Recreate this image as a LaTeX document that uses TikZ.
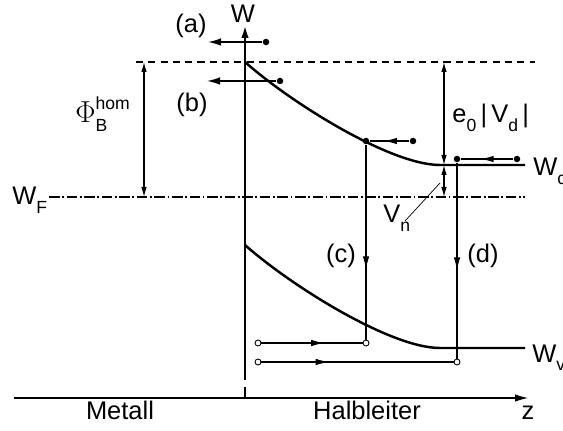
\documentclass[tikz,border=0pt]{standalone}
\usepackage{fontspec}
\setmainfont{Liberation Sans}
\usetikzlibrary{arrows.meta, decorations.markings, calc}

\newcommand{\lowsub}[1]{\raisebox{-5pt}{\fontsize{10}{11}\selectfont #1}}
\newcommand{\highsup}[1]{\raisebox{7.5pt}{\fontsize{10}{11}\selectfont #1}}

\begin{document}
\begin{tikzpicture}[
    x=0.02cm, y=-0.02cm,
    every node/.style={font=\fontsize{14.5}{17}\selectfont, inner sep=0pt},
    thinline/.style={line width=0.6pt},
    band/.style={line width=1.4pt},
    arrow/.style={-{Latex[length=2.6mm,width=1.5mm]}, line width=0.8pt},
    dimarrow/.style={{Latex[length=2mm,width=1.1mm]}-{Latex[length=2mm,width=1.1mm]}, line width=0.6pt},
    midarrow/.style={postaction={decorate}, decoration={markings, mark=at position #1 with {\arrow{Latex[length=2.6mm,width=1.3mm]}}}},
    dot/.style={circle, fill, inner sep=0pt, minimum size=1.3mm},
    hole/.style={circle, draw, fill=white, inner sep=0pt, minimum size=1.2mm, line width=0.5pt}
]
\useasboundingbox (0,0) rectangle (563,431);

% Axes
\coordinate (wbot) at (245,380);
\coordinate (wtop) at (245,25);
\coordinate (zleft) at (14,398);
\coordinate (zright) at (528,398);
\draw[arrow, line width=1.4pt] (wbot) -- (wtop);
\draw[thinline] (245,387) -- (245,398);
\draw[arrow, thinline] (zleft) -- (zright);
\node[anchor=base] (wlabel) at (243,23) {W};
\node[anchor=base] (metall) at (120,419) {Metall};
\node[anchor=base] (halbleiter) at (367,419) {Halbleiter};
\node[anchor=base] (zlabel) at (528,419) {z};

% Reference levels
\coordinate (vac0) at (136,62);
\coordinate (vac1) at (535,62);
\coordinate (fermi0) at (49,197);
\coordinate (fermi1) at (525,197);
\draw[thinline, dash pattern=on 4pt off 3pt] (vac0) -- (vac1);
\draw[thinline, dash pattern=on 6pt off 1.5pt on 1pt off 1.5pt] (fermi0) -- (fermi1);
\node[anchor=base west] (wf) at (12,205) {W\lowsub{F}};

% Bands
\coordinate (cb0) at (245,62);
\coordinate (cb1) at (440,165);
\coordinate (cb2) at (525,165);
\coordinate (vb0) at (245,245);
\coordinate (vb1) at (440,348);
\coordinate (vb2) at (525,348);
\draw[band] (cb0) .. controls (290,102) and (390,165) .. (cb1) -- (cb2);
\draw[band] (vb0) .. controls (290,285) and (390,348) .. (vb1) -- (vb2);
\node[anchor=base west] (wc) at (533,176) {W\lowsub{c}};
\node[anchor=base west] (wv) at (532,362) {W\lowsub{v}};

% Barrier heights
\coordinate (phitop) at (144,62);
\coordinate (phibot) at (144,197);
\draw[dimarrow] (phitop) -- (phibot);
\node[anchor=base west] (phi) at (75,123) {{\fontsize{17}{19}\selectfont$\Phi$}\rlap{\highsup{hom}}\lowsub{B}};
\coordinate (vdtop) at (444,62);
\coordinate (vdbot) at (444,165);
\coordinate (vnbot) at (444,197);
\draw[dimarrow] (vdtop) -- (vdbot);
\draw[dimarrow] (vdbot) -- (vnbot);
\node[anchor=base west] (vd) at (452,123) {e\lowsub{0}\,|\,V\lowsub{d}\,|};
\node[anchor=base west] (vn) at (383,223) {V\lowsub{n}};
\coordinate (vnlead) at (440,183);
\draw[line width=0.4pt] (405,221) -- (vnlead);

% (a) and (b): emission over the barrier
\node[dot] (adot) at (266,42) {};
\coordinate (atip) at (208,42);
\draw[arrow] (adot) -- (atip);
\node[anchor=base] (alabel) at (191,33) {(a)};
\node[dot] (bdot) at (280,81) {};
\coordinate (btip) at (207,81);
\draw[arrow] (bdot) -- (btip);
\node[anchor=base] (blabel) at (192,112) {(b)};

% (c) and (d): recombination
\node[dot] (cleft) at (366,141) {};
\node[dot] (cright) at (413,141) {};
\node[hole] (chole) at (366,343) {};
\draw[thinline, midarrow=0.64] (cright) -- (cleft);
\draw[thinline, midarrow=0.64] (cleft) -- (chole);
\node[anchor=base] (clabel) at (341,263) {(c)};
\node[dot] (dleft) at (457,159) {};
\node[dot] (dright) at (517,159) {};
\node[hole] (dhole) at (457,362) {};
\draw[thinline, midarrow=0.62] (dright) -- (dleft);
\draw[thinline, midarrow=0.55] (dleft) -- (dhole);
\node[anchor=base] (dlabel) at (483,263) {(d)};

% holes coming in from the metal
\node[hole] (hc) at (258,343) {};
\node[hole] (hd) at (258,362) {};
\draw[thinline, midarrow=0.62] (hc) -- (chole);
\draw[thinline, midarrow=0.35] (hd) -- (dhole);

\end{tikzpicture}
\end{document}
